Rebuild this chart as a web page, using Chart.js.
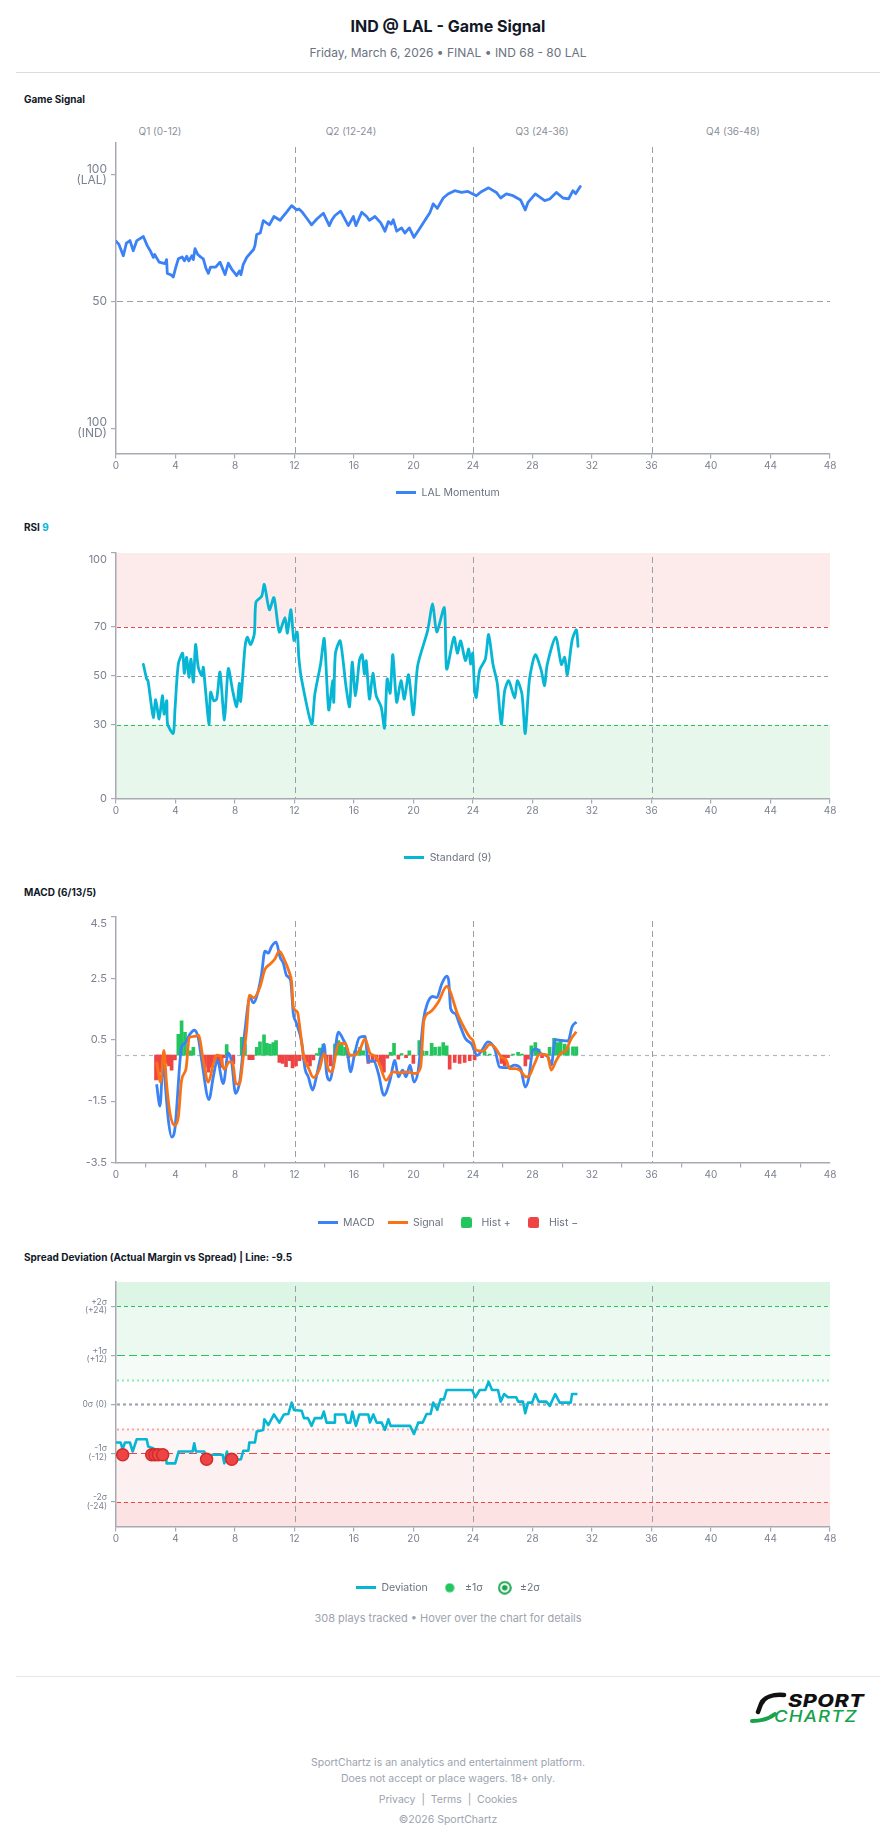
<!DOCTYPE html>
<html>
<head>
<meta charset="utf-8">
<title>IND @ LAL - Game Signal</title>
<script src="https://cdn.jsdelivr.net/npm/chart.js@4.4.1/dist/chart.umd.min.js"></script>
<style>
  html, body { margin: 0; padding: 0; background: #fff; }
  body { font-family: Inter, "Noto Sans", sans-serif; color: #111827; }
  #page { position: relative; width: 896px; height: 1845px; overflow: hidden; }
  .abs { position: absolute; }
  .title { left: 0; width: 896px; top: 16px; text-align: center; font-size: 16px; font-weight: 700; line-height: 20px; }
  .sub { left: 0; width: 896px; top: 45px; text-align: center; font-size: 12px; color: #6b7280; line-height: 16px; }
  .rule { left: 16px; width: 864px; height: 1px; background: #d9dbe0; }
  .sec { left: 24px; font-size: 10px; font-weight: 700; line-height: 12px; color: #111827; }
  .chart { left: 16px; width: 864px; }
  .q { top: 124px; width: 120px; text-align: center; font-size: 10px; line-height: 14px; color: #8b909b; }
  .foot { left: 0; width: 896px; text-align: center; font-size: 10.5px; line-height: 14px; color: #9ca3af; }
  .logo span { position: absolute; transform-origin: left top; white-space: nowrap; }
</style>
</head>
<body>
<div id="page">
  <div class="abs title">IND @ LAL - Game Signal</div>
  <div class="abs sub">Friday, March 6, 2026 • FINAL • IND 68 - 80 LAL</div>
  <div class="abs rule" style="top:72px"></div>

  <!-- Game Signal -->
  <div class="abs sec" style="top:93px">Game Signal</div>
  <div class="abs q" style="left:100px">Q1 (0-12)</div>
  <div class="abs q" style="left:291px">Q2 (12-24)</div>
  <div class="abs q" style="left:482px">Q3 (24-36)</div>
  <div class="abs q" style="left:673px">Q4 (36-48)</div>
  <div class="abs chart" style="top:133px;height:375px"><canvas id="cMom"></canvas></div>

  <!-- RSI -->
  <div class="abs sec" style="top:521px">RSI <span style="color:#06b6d4">9</span></div>
  <div class="abs chart" style="top:543px;height:330px"><canvas id="cRsi"></canvas></div>

  <!-- MACD -->
  <div class="abs sec" style="top:886px">MACD (6/13/5)</div>
  <div class="abs chart" style="top:907px;height:331px"><canvas id="cMacd"></canvas></div>

  <!-- Spread deviation -->
  <div class="abs sec" style="top:1251px">Spread Deviation (Actual Margin vs Spread) | Line: -9.5</div>
  <div class="abs chart" style="top:1272px;height:331px"><canvas id="cDev"></canvas></div>
  <div class="abs foot" style="top:1611px;font-size:11px">308 plays tracked • Hover over the chart for details</div>

  <!-- footer -->
  <div class="abs rule" style="top:1676px;background:#e5e7eb"></div>
  <div class="abs logo" style="left:749px;top:1691px;width:118px;height:34px">
    <svg width="40" height="34" style="position:absolute;left:0;top:0">
      <path d="M35 4 C24 3 15 6 12 13 L9 21" stroke="#111" stroke-width="4.5" fill="none" stroke-linecap="round"/>
      <path d="M3 30 C12 30 20 28 26 23" stroke="#16a34a" stroke-width="4" fill="none" stroke-linecap="round"/>
    </svg>
    <span style="left:39px;top:0px;font:italic 800 17px Inter;letter-spacing:0.4px;color:#111;transform:scaleX(1.27)">SPORT</span>
    <span style="left:25px;top:15px;font:italic 500 16px Inter;letter-spacing:1px;color:#16a34a;transform:scaleX(1.16)">CHARTZ</span>
  </div>
  <div class="abs foot" style="top:1756px">SportChartz is an analytics and entertainment platform.</div>
  <div class="abs foot" style="top:1772px">Does not accept or place wagers. 18+ only.</div>
  <div class="abs foot" style="top:1793px">Privacy&nbsp; | &nbsp;Terms&nbsp; | &nbsp;Cookies</div>
  <div class="abs foot" style="top:1813px">©2026 SportChartz</div>
</div>

<script>
// === DATA ===
const xTicks = [0, 4, 8, 12, 16, 20, 24, 28, 32, 36, 40, 44, 48];
const quarterEnds = [12, 24, 36];

// momentum (game minute / value, 50 = even)
const momTicks = [0, 50, 100];
const momT = [0, 0.2, 0.49, 0.7, 0.94, 1.16, 1.4, 1.84, 2.1, 2.3,
  2.51, 2.6, 2.9, 3.29, 3.4, 3.45, 3.7, 3.85, 4.0, 4.19,
  4.45, 4.6, 4.75, 4.9, 5.1, 5.2, 5.31, 5.5, 5.7, 5.87,
  6.05, 6.21, 6.35, 6.7, 6.99, 7.33, 7.55, 7.8, 8.11, 8.3,
  8.4, 8.55, 8.79, 9.1, 9.25, 9.34, 9.46, 9.7, 9.9, 10.31,
  10.62, 11.03, 11.3, 11.47, 11.81, 12.15, 12.3, 12.48, 12.8, 13.15,
  13.5, 13.94, 14.34, 14.5, 14.72, 15.1, 15.62, 15.96, 16.13, 16.52,
  16.85, 17.03, 17.41, 17.8, 18.08, 18.31, 18.5, 18.64, 18.87, 19.2,
  19.42, 19.72, 20.03, 20.44, 20.88, 21.1, 21.33, 21.6, 22.0, 22.32,
  22.77, 23.22, 23.66, 24.22, 24.56, 25.05, 25.57, 25.86, 26.24, 26.69,
  27.2, 27.51, 27.7, 28.19, 28.82, 29.16, 29.6, 30.05, 30.43, 30.72,
  30.9, 31.21];
const momV = [73.7, 72.5, 68, 73, 74, 70, 74, 75.6, 72, 70,
  67.4, 68.5, 65.5, 64.9, 66.5, 61, 60.5, 59.6, 63, 66.8,
  67.5, 66, 67.8, 66, 68, 66.5, 70.8, 68.5, 67.5, 66.8,
  63, 61.1, 63.5, 63.5, 65.5, 60.6, 65.1, 62.5, 60.2, 62,
  60.5, 64.5, 67.4, 69.5, 70.5, 72, 76.4, 77, 81.9, 80.2,
  83.5, 82, 84, 85.2, 87.8, 86.1, 86.5, 85.5, 83, 80.2,
  82.5, 84.8, 79.9, 82, 83.9, 85.6, 79.9, 83.5, 79.9, 85.2,
  83.5, 82, 83.5, 81, 77.7, 81.5, 80.5, 82.2, 77.7, 79,
  77, 79, 75.3, 79, 83, 85, 88.5, 86.7, 90.8, 92.4,
  93.7, 93, 93.4, 91.7, 93.3, 94.8, 93, 90.8, 92.4, 91.7,
  90, 86.1, 89.1, 92.4, 89.8, 90.4, 93, 90.8, 90.5, 93.7,
  92.5, 95.3];

// RSI (9)
const rsiTicks = [0, 30, 50, 70, 100];
const rsiT = [1.84, 2.06, 2.15, 2.29, 2.51, 2.67, 2.9, 3.12, 3.23, 3.41,
  3.47, 3.85, 3.96, 4.19, 4.48, 4.59, 4.75, 4.9, 5.04, 5.2,
  5.35, 5.53, 5.76, 5.87, 5.98, 6.25, 6.36, 6.58, 6.77, 6.99,
  7.29, 7.55, 7.84, 8.11, 8.29, 8.38, 8.67, 8.83, 9.05, 9.3,
  9.41, 9.79, 9.97, 10.31, 10.62, 10.98, 11.36, 11.52, 11.76, 11.96,
  12.18, 12.29, 12.47, 13.15, 13.37, 13.75, 14.0, 14.3, 14.57, 14.64,
  14.75, 15.07, 15.47, 15.7, 15.88, 16.1, 16.37, 16.55, 16.7, 16.82,
  17.04, 17.27, 17.49, 17.83, 18.05, 18.23, 18.43, 18.61, 18.87, 19.16,
  19.38, 19.67, 19.99, 20.28, 20.95, 21.29, 21.56, 22.07, 22.23, 22.72,
  22.95, 23.17, 23.49, 23.71, 23.84, 23.98, 24.11, 24.22, 24.45, 24.83,
  25.05, 25.34, 25.63, 25.9, 26.13, 26.4, 26.8, 26.98, 27.29, 27.51,
  27.8, 28.19, 28.59, 28.81, 28.99, 29.56, 29.94, 30.16, 30.34, 30.66,
  30.95, 31.06];
const rsiV = [54.6, 48.7, 48, 41.9, 33, 40.3, 32.4, 41.9, 34.4, 39.8,
  30.3, 26.5, 35.8, 54.8, 59.2, 51, 57.5, 49.4, 56.8, 47.4,
  62.7, 53.5, 50.1, 53.5, 46.7, 30.3, 43.3, 39.8, 40.5, 51.5,
  32, 52.9, 44, 37.4, 46.9, 39.6, 61.6, 65.7, 62.7, 67.1,
  80, 82.3, 87.2, 76.9, 81.8, 67.8, 73.7, 67.4, 76.9, 64.4,
  67.8, 57.5, 48.7, 30.3, 42.6, 54.6, 65.1, 36.1, 48, 39.2,
  59, 64.2, 45.3, 37.4, 55.5, 41.9, 56.4, 58.6, 50.7, 56.1,
  40.5, 51, 41.9, 37.2, 28.7, 48.7, 42.9, 58.6, 39.2, 48,
  40.5, 50.4, 34.1, 54.1, 68.4, 79.3, 67.8, 77.7, 52.7, 65.7,
  59.2, 64.2, 56.2, 60.9, 54.8, 59.2, 43.9, 41.2, 52.4, 56.8,
  66.8, 54.8, 47, 30.3, 43.9, 48, 40.9, 48, 42.6, 26.5,
  48.7, 58.6, 52.1, 46, 54.6, 65.7, 54.6, 57.5, 50.4, 64.4,
  68.7, 62];

// MACD (6/13/5)
const macdTicks = [-3.5, -1.5, 0.5, 2.5, 4.5];
const macdT = [2.73, 2.96, 3.18, 3.31, 3.52, 3.74, 3.96, 4.41, 4.64, 4.98,
  5.27, 5.54, 5.76, 6.25, 6.54, 6.81, 7.21, 7.55, 7.77, 8.04,
  8.33, 8.67, 9.01, 9.23, 9.57, 9.79, 10.01, 10.24, 10.46, 10.76,
  11.03, 11.25, 11.47, 11.74, 11.92, 12.1, 12.48, 12.71, 12.93, 13.22,
  13.49, 13.76, 13.99, 14.16, 14.39, 14.61, 14.95, 15.28, 15.51, 15.78,
  16.0, 16.36, 16.74, 16.96, 17.3, 17.64, 18.01, 18.42, 18.75, 18.98,
  19.27, 19.5, 19.77, 20.03, 20.32, 20.66, 20.93, 21.29, 21.56, 21.9,
  22.23, 22.36, 22.5, 22.81, 23.1, 23.49, 23.89, 24.29, 24.56, 25.01, 25.46,
  25.79, 26.35, 26.8, 27.2, 27.51, 27.74, 28.03, 28.25, 28.59, 29.04,
  29.26, 29.53, 29.94, 30.39, 30.66, 30.95];
const macdV = [-0.95, -1.66, -0.06, -0.93, -2.12, -2.67, -2.4, 0.26, 0.39, 0.69,
  0.81, 0.54, -0.17, -1.45, -0.71, -0.17, -0.93, 0.07, -0.22, -1.25,
  -0.82, 0.81, 1.89, 1.7, 2.11, 2.65, 3.39, 3.32, 3.54, 3.68,
  3.19, 2.99, 2.59, 2.43, 1.35, 1.08, 0.43, -0.45, -0.71, -1.14,
  -0.66, -0.06, 0.35, -0.6, -0.82, -0.33, 0.75, 0.5, 0.26, -0.55,
  -0.06, 0.57, 0.61, -0.22, -0.17, -0.6, -1.31, -0.82, -0.17, -0.71,
  -0.49, -0.71, -0.33, -0.88, -0.49, 1.13, 1.68, 1.91, 1.87, 2.32,
  2.57, 2.45, 1.51, 1.35, 1.0, 0.54, 0.37, -0.01, 0.13, 0.43, 0.2,
  -0.39, -0.41, -0.33, -0.44, -1.04, -0.77, 0.16, 0.2, 0.04, -0.06,
  -0.33, 0.5, 0.48, 0.46, 0.92, 1.08];
const sigT = [2.73, 3.0, 3.22, 3.4, 3.63, 3.96, 4.19, 4.41, 4.71, 4.93,
  5.31, 5.54, 5.87, 6.21, 6.54, 6.77, 7.0, 7.26, 7.62, 7.84,
  8.06, 8.29, 8.56, 8.78, 8.97, 9.27, 9.68, 10.01, 10.35, 10.69,
  10.98, 11.29, 11.65, 11.81, 11.92, 12.2, 12.38, 12.6, 12.93, 13.27,
  13.67, 13.99, 14.28, 14.5, 14.95, 15.4, 15.73, 16.07, 16.41, 16.74,
  17.07, 17.48, 17.74, 18.15, 18.64, 19.09, 19.54, 20.1, 20.48, 20.7,
  21.11, 21.67, 22.23, 22.99, 23.77, 23.99, 24.21, 24.67, 25.12, 25.46,
  25.9, 26.24, 26.46, 26.8, 27.14, 27.58, 27.8, 28.14, 28.48, 28.99,
  29.26, 29.6, 29.94, 30.21, 30.61, 30.95];
const sigV = [-0.22, -0.88, 0.15, -0.93, -1.9, -2.29, -2.01, -0.82, -0.44, 0.57,
  0.61, 0.65, -0.17, -0.88, -0.28, 0, -0.02, -0.46, -0.22, -0.24,
  -0.93, -0.95, -0.06, 0.81, 1.95, 1.87, 2.22, 2.79, 2.96, 3.14,
  3.39, 3.14, 2.7, 2.38, 1.57, 1.4, 0.81, 0, -0.41, -0.73,
  -0.47, 0.05, -0.47, -0.55, 0.37, 0.39, -0.01, 0, 0.2, 0.53,
  0.07, -0.06, -0.33, -0.82, -0.55, -0.58, -0.55, -0.6, -0.39, 1.13,
  1.4, 1.73, 2.24, 1.3, 0.59, 0.48, 0.16, 0.13, 0.35, 0.26,
  -0.06, -0.17, -0.44, -0.44, -0.49, -0.71, -0.66, -0.28, 0.03, 0,
  -0.49, -0.17, 0.07, 0.13, 0.54, 0.76];
const histT = [2.69, 2.78, 2.91, 3.07, 3.23, 3.41, 3.56, 3.74, 3.96, 4.19,
  4.41, 4.64, 4.98, 5.2, 5.98, 6.21, 6.43, 6.65, 6.88, 7.1,
  7.26, 7.44, 7.89, 8.45, 8.67, 8.96, 9.19, 9.46, 9.68, 9.95,
  10.13, 10.35, 10.58, 10.76, 10.98, 11.2, 11.43, 11.65, 11.87, 12.1,
  12.32, 12.6, 12.82, 13.04, 13.27, 13.49, 13.71, 13.94, 14.16, 14.43,
  14.72, 14.95, 15.17, 15.4, 15.62, 15.84, 16.07, 16.41, 16.63, 16.96,
  17.25, 17.52, 17.79, 18.01, 18.24, 18.46, 18.69, 18.98, 19.2, 19.5,
  19.72, 19.99, 20.39, 20.61, 20.88, 21.22, 21.45, 21.74, 22.0, 22.23,
  22.43, 22.77, 23.1, 23.44, 23.78, 24.11, 24.78, 25.12, 25.91, 26.13,
  26.35, 26.69, 27.03, 27.29, 27.52, 27.7, 27.92, 28.19, 28.41, 28.64,
  29.15, 29.45, 29.67, 29.89, 30.16, 30.38, 30.72, 30.95];
const histV = [-0.81, -0.78, -0.56, -0.4, -0.18, -0.27, -0.35, -0.49, -0.16, 0.68,
  1.12, 0.74, 0.14, 0.25, -0.4, -0.56, -0.4, -0.18, -0.24, -0.4,
  -0.08, 0.34, -0.29, 0.58, 0.36, -0.15, -0.15, 0.25, 0.43, 0.66,
  0.38, 0.36, 0.41, 0.47, -0.24, -0.27, -0.38, -0.18, -0.42, -0.35,
  -0.18, -0.13, -0.24, -0.35, -0.16, 0.05, 0.23, 0.36, -0.24, -0.35,
  0.36, 0.47, 0.38, 0.25, -0.08, 0.03, 0.14, 0.25, 0.14, -0.27,
  -0.24, -0.21, -0.35, -0.56, -0.1, 0.09, 0.38, -0.13, 0.05, -0.08,
  0.14, -0.27, 0.47, 0.14, 0.12, 0.38, 0.25, 0.27, 0.41, 0.3,
  -0.46, -0.24, -0.27, -0.24, -0.18, -0.16, 0.12, 0.03, -0.27, -0.35,
  -0.08, 0.03, 0.09, 0.03, -0.35, -0.13, 0.3, 0.41, 0.2, -0.08,
  0.25, 0.55, 0.41, 0.45, 0.36, 0.27, 0.27, 0.27];

// spread deviation (points vs line)
const devTicks = [-24, -12, 0, 12, 24];
const devT = [0, 0.31, 0.45, 0.6, 0.94, 1.12, 1.39, 2.06, 2.17, 2.51,
  2.8, 3.36, 3.4, 3.98, 4.21, 5.15, 5.26, 5.37, 5.93, 6.05,
  6.5, 7.17, 7.28, 7.46, 7.62, 8.4, 8.56, 8.9, 8.96, 9.34,
  9.46, 9.9, 9.97, 10.24, 10.62, 10.98, 11.29, 11.58, 11.81, 11.96,
  12.48, 12.64, 12.9, 13.15, 13.37, 13.82, 13.97, 14.16, 14.66, 14.72,
  15.4, 15.51, 15.75, 15.89, 16.13, 16.36, 16.96, 17.07, 17.3, 17.52,
  17.86, 18.08, 18.31, 18.46, 19.77, 20.03, 20.32, 20.62, 20.88, 21.15,
  21.33, 21.6, 21.82, 22.04, 22.23, 23.93, 24.16, 24.45, 24.83, 25.05,
  25.28, 25.68, 25.86, 26.09, 26.35, 26.91, 27.03, 27.36, 27.51, 27.7,
  27.97, 28.19, 28.41, 28.93, 29.16, 29.53, 29.83, 30.57, 30.66, 31.02];
const devV = [-9.4, -9.4, -11, -9.4, -9.4, -11.6, -8.6, -8.6, -10.4, -10.8,
  -12, -12.2, -14.5, -14.5, -11.6, -11.6, -9.6, -11.6, -11.6, -12.8,
  -12.4, -12.4, -14.5, -11.6, -14, -13.5, -11.4, -11.4, -9.4, -9.4,
  -6.7, -6.3, -3.7, -5.1, -2.5, -4.5, -2.5, -2.4, 0.4, -1.4,
  -1.6, -3.4, -3.4, -5.3, -3.4, -3.4, -1.8, -4.5, -4.5, -2.5,
  -2.5, -4.5, -4.5, -1.8, -5.3, -2.5, -2.5, -4.5, -2.5, -4.5,
  -4.5, -6.3, -3.7, -5.3, -5.3, -7.3, -4.5, -4.5, -2.4, -2.4,
  0.4, -1.4, 1.2, 1.2, 3.5, 3.5, 1.7, 3.5, 3.5, 5.5,
  3.5, 3.5, 0.65, 2.5, 1.7, 1.7, 0.65, 0.65, -2.2, 0.4,
  0.4, 2.5, 0.65, 0.65, -0.4, 2.5, 0.4, 0.4, 2.5, 2.5];
// plays flagged past -1 sigma
const flagT = [0.45, 2.4, 2.62, 2.84, 3.14, 6.09, 7.78];
const flagV = [-12.4, -12.4, -12.4, -12.4, -12.4, -13.5, -13.5];

// === STYLE ===
const FONT = 'Inter, "Noto Sans", sans-serif';
const AXIS = '#a7aab2';
const TICK = '#7b8190';
const LEG = '#6b7280';
const BLUE = '#3b82f6', CYAN = '#06b6d4', ORANGE = '#f97316', GREEN = '#22c55e', RED = '#ef4444';

const pts = (t, v) => t.map((x, i) => ({x, y: v[i]}));

// small canvases used as legend markers
function icon(w, h, draw) {
  const c = document.createElement('canvas');
  c.width = w; c.height = h;
  draw(c.getContext('2d'));
  return c;
}
const lineIcon = col => icon(20, 3, g => { g.fillStyle = col; g.fillRect(0, 0, 20, 3); });
const sqIcon = col => icon(11, 11, g => {
  g.fillStyle = col; g.beginPath();
  if (g.roundRect) g.roundRect(0, 0, 11, 11, 2.5); else g.rect(0, 0, 11, 11);
  g.fill();
});
const dotIcon = col => icon(10, 10, g => { g.fillStyle = col; g.beginPath(); g.arc(5, 5, 4.6, 0, Math.PI * 2); g.fill(); });
const ringIcon = col => icon(14, 14, g => {
  g.strokeStyle = col; g.lineWidth = 2; g.beginPath(); g.arc(7, 7, 5.8, 0, Math.PI * 2); g.stroke();
  g.fillStyle = col; g.beginPath(); g.arc(7, 7, 2.8, 0, Math.PI * 2); g.fill();
});

// zones + reference lines, placed through the chart's own scales
function refs(cfg) {
  return {
    id: 'refs',
    beforeDraw(chart) {
      const {ctx, chartArea: a, scales: {y}} = chart;
      ctx.save();
      (cfg.zones || []).forEach(z => {
        const top = y.getPixelForValue(z.to), bot = y.getPixelForValue(z.from);
        ctx.fillStyle = z.color;
        ctx.fillRect(a.left, top, a.right - a.left, bot - top);
      });
      ctx.restore();
    },
    beforeDatasetsDraw(chart) {
      const {ctx, chartArea: a, scales: {x, y}} = chart;
      ctx.save();
      (cfg.hlines || []).forEach(l => {
        const py = Math.round(y.getPixelForValue(l.value)) + 0.5;
        ctx.beginPath();
        ctx.setLineDash(l.dash);
        ctx.lineWidth = l.width || 1;
        ctx.strokeStyle = l.color;
        ctx.moveTo(a.left + 1, py); ctx.lineTo(a.right, py); ctx.stroke();
      });
      quarterEnds.forEach(q => {
        const px = Math.round(x.getPixelForValue(q)) + 0.5;
        ctx.beginPath();
        ctx.setLineDash([6, 4]);
        ctx.lineWidth = 1;
        ctx.strokeStyle = '#9a9ea8';
        ctx.moveTo(px, a.top + 4); ctx.lineTo(px, a.bottom); ctx.stroke();
      });
      ctx.restore();
    }
  };
}

function xScale(h) {
  return {
    type: 'linear', min: 0, max: 48, offset: false,
    afterBuildTicks: s => { s.ticks = xTicks.map(v => ({value: v})); },
    afterFit: s => { s.height = h; },
    border: {color: AXIS, width: 1.5},
    grid: {drawOnChartArea: false, drawTicks: true, tickLength: 5, color: AXIS, lineWidth: 1.2},
    ticks: {color: TICK, font: {family: FONT, size: 10}, padding: 1, maxRotation: 0, autoSkip: false}
  };
}

function yScale(min, max, ticks, fmt, size, lh) {
  return {
    type: 'linear', min, max,
    afterBuildTicks: s => { s.ticks = ticks.map(v => ({value: v})); },
    afterFit: s => { s.width = 50; s.paddingTop = 0; s.paddingBottom = 0; },
    border: {color: AXIS, width: 1.5},
    grid: {drawOnChartArea: false, drawTicks: true, tickLength: 5, color: AXIS, lineWidth: 1.2},
    ticks: {color: TICK, font: {family: FONT, size, lineHeight: lh}, padding: 4, autoSkip: false, callback: fmt}
  };
}

function legend(items, pad) {
  return {
    position: 'bottom',
    onClick: () => {},
    labels: {
      usePointStyle: true, pointStyleWidth: 20, padding: pad,
      color: LEG, font: {family: FONT, size: 10.5},
      generateLabels: () => items.map(it => ({
        text: it.text, pointStyle: it.icon, fillStyle: 'rgba(0,0,0,0)', fontColor: LEG,
        strokeStyle: 'rgba(0,0,0,0)', lineWidth: 0, hidden: false
      }))
    }
  };
}

function baseOpts(scales, leg) {
  return {
    responsive: true, maintainAspectRatio: false, animation: false, events: [],
    layout: {padding: {top: 10, right: 50, left: 50, bottom: 0}},
    scales,
    plugins: {legend: leg, tooltip: {enabled: false}}
  };
}

// === GAME SIGNAL ===
new Chart(document.getElementById('cMom'), {
  type: 'line',
  data: {datasets: [{
    label: 'LAL Momentum', data: pts(momT, momV),
    borderColor: BLUE, borderWidth: 2.8, pointRadius: 0, tension: 0,
    borderJoinStyle: 'round', borderCapStyle: 'round'
  }]},
  options: baseOpts({
    x: xScale(24),
    y: yScale(-10, 112.5, momTicks,
      v => v === 100 ? ['100', '(LAL)'] : v === 0 ? ['100', '(IND)'] : String(v), 12, 0.95)
  }, legend([{text: 'LAL Momentum', icon: lineIcon(BLUE)}], 10)),
  plugins: [refs({hlines: [{value: 50, color: '#9a9ea8', dash: [6, 4]}]})]
});

// === RSI ===
new Chart(document.getElementById('cRsi'), {
  type: 'line',
  data: {datasets: [{
    label: 'Standard (9)', data: pts(rsiT, rsiV),
    borderColor: CYAN, borderWidth: 2.8, pointRadius: 0, tension: 0.25,
    borderJoinStyle: 'round', borderCapStyle: 'round'
  }]},
  options: baseOpts({
    x: xScale(44),
    y: yScale(0, 100, rsiTicks, v => v === 100 ? ['', '100'] : String(v), 11, 1.25)
  }, legend([{text: 'Standard (9)', icon: lineIcon(CYAN)}], 10)),
  plugins: [refs({
    zones: [{from: 70, to: 100, color: '#fdeaea'}, {from: 0, to: 30, color: '#e7f7ec'}],
    hlines: [
      {value: 70, color: RED, dash: [4, 3], width: 1.2},
      {value: 50, color: '#9a9ea8', dash: [4, 3], width: 1.2},
      {value: 30, color: GREEN, dash: [4, 3], width: 1.2}
    ]
  })]
});

// === MACD ===
new Chart(document.getElementById('cMacd'), {
  type: 'bar',
  data: {datasets: [
    {type: 'line', label: 'Signal', data: pts(sigT, sigV), order: 1,
      borderColor: ORANGE, borderWidth: 2.8, pointRadius: 0, cubicInterpolationMode: 'monotone'},
    {type: 'line', label: 'MACD', data: pts(macdT, macdV), order: 2,
      borderColor: BLUE, borderWidth: 2.8, pointRadius: 0, cubicInterpolationMode: 'monotone'},
    {label: 'Hist +', data: pts(histT, histV).filter(p => p.y >= 0), order: 3,
      backgroundColor: GREEN, barThickness: 3, grouped: false},
    {label: 'Hist −', data: pts(histT, histV).filter(p => p.y < 0), order: 3,
      backgroundColor: RED, barThickness: 3, grouped: false}
  ]},
  options: baseOpts({
    x: xScale(42),
    y: yScale(-3.5, 4.5, macdTicks, v => v === 4.5 ? ['', '4.5'] : String(v), 11, 1.25)
  }, legend([
    {text: 'MACD', icon: lineIcon(BLUE)},
    {text: 'Signal', icon: lineIcon(ORANGE)},
    {text: 'Hist +', icon: sqIcon(GREEN)},
    {text: 'Hist −', icon: sqIcon(RED)}
  ], 13)),
  plugins: [refs({hlines: [{value: 0, color: '#b3b6bd', dash: [4, 4], width: 1.2}]})]
});

// === SPREAD DEVIATION ===
const devLabels = {'24': ['+2σ', '(+24)'], '12': ['+1σ', '(+12)'], '0': '0σ (0)', '-12': ['-1σ', '(-12)'], '-24': ['-2σ', '(-24)']};
new Chart(document.getElementById('cDev'), {
  type: 'line',
  data: {datasets: [
    {label: '±1σ', data: pts(flagT, flagV), order: 0, showLine: false,
      pointRadius: 6, pointBackgroundColor: RED, pointBorderColor: '#d12c2c', pointBorderWidth: 1.5},
    {label: 'Deviation', data: pts(devT, devV), order: 1,
      borderColor: CYAN, borderWidth: 2.6, pointRadius: 0, tension: 0, borderJoinStyle: 'round'}
  ]},
  options: baseOpts({
    x: xScale(44),
    y: yScale(-30, 30, devTicks, v => devLabels[String(v)], 8.5, 1.0)
  }, legend([
    {text: 'Deviation', icon: lineIcon(CYAN)},
    {text: '±1σ', icon: dotIcon(GREEN)},
    {text: '±2σ', icon: ringIcon('#16a34a')}
  ], 12)),
  plugins: [refs({
    zones: [
      {from: 24, to: 30, color: '#dcf5e5'},
      {from: 12, to: 24, color: '#ecf9f1'},
      {from: 6, to: 12, color: '#f5fcf7'},
      {from: -12, to: -6, color: '#fdf6f6'},
      {from: -24, to: -12, color: '#fdf0f0'},
      {from: -30, to: -24, color: '#fde2e3'}
    ],
    hlines: [
      {value: 24, color: GREEN, dash: [4, 3], width: 1.2},
      {value: 12, color: GREEN, dash: [8, 4], width: 1.2},
      {value: 6, color: '#86efac', dash: [2, 3], width: 2},
      {value: 0, color: '#a1a4ad', dash: [3, 3], width: 2.2},
      {value: -6, color: '#fca5a5', dash: [2, 3], width: 2},
      {value: -12, color: RED, dash: [8, 4], width: 1.2},
      {value: -24, color: RED, dash: [4, 3], width: 1.2}
    ]
  })]
});
</script>
</body>
</html>
